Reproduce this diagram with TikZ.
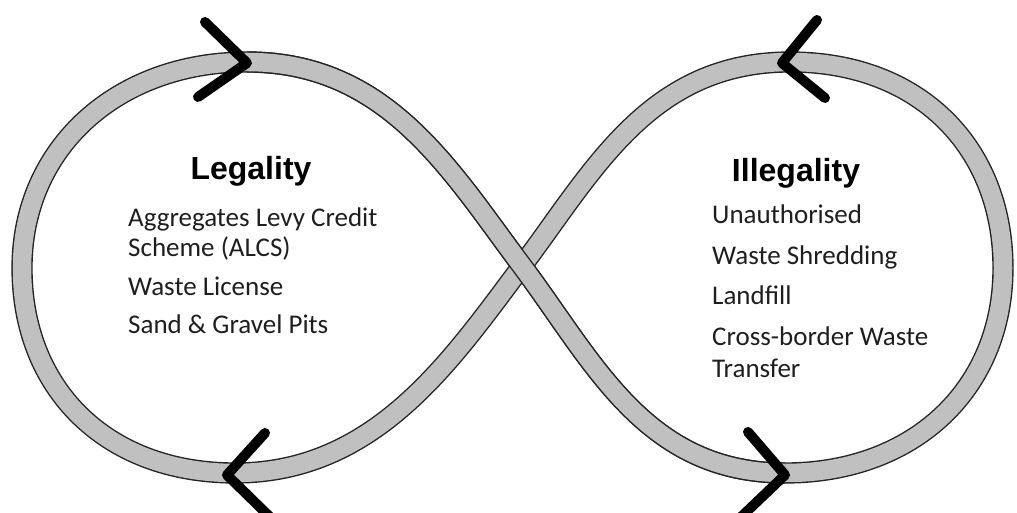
\documentclass[tikz,border=0pt]{standalone}
\usepackage{fontspec}
\setmainfont{Carlito}
\newfontfamily\titlefont{Liberation Sans}
\definecolor{bandfill}{RGB}{192,192,192}
\definecolor{bandline}{RGB}{35,35,35}
\definecolor{txt}{RGB}{30,30,30}
\begin{document}
\begin{tikzpicture}[x=1pt,y=1pt,
  band/.style={draw=bandline, line width=1.4pt, double=bandfill, double distance=18.5pt},
  chevron/.style={draw=black, line width=10pt, line cap=round, line join=round},
  titletext/.style={font=\titlefont\bfseries\fontsize{32}{32}\selectfont, anchor=base, text=black, inner sep=0pt},
  itemtext/.style={font=\fontsize{27}{27}\selectfont, anchor=base west, text=txt, inner sep=0pt}]
\useasboundingbox (0,0) rectangle (1017,513);
\clip (0,0) rectangle (1017,513);
% key points of the band centre line
\coordinate (T1) at (247,451);
\coordinate (C)  at (522,247);
\coordinate (B2) at (785,40);
\coordinate (R)  at (1003,245);
\coordinate (T2) at (790,451);
\coordinate (B1) at (235,40);
\coordinate (L)  at (22,245);
% whole figure of eight
\path[band] (T1) .. controls (387,451) and (450,343) .. (C)
  .. controls (594,151) and (645,40) .. (B2)
  .. controls (915,40) and (1003,125) .. (R)
  .. controls (1003,365) and (920,451) .. (T2)
  .. controls (650,451) and (594,343) .. (C)
  .. controls (450,151) and (375,40) .. (B1)
  .. controls (105,40) and (22,125) .. (L)
  .. controls (22,365) and (117,451) .. (T1) -- cycle;
% strand passing over at the crossing
\path[band] (T1) .. controls (387,451) and (450,343) .. (C)
  .. controls (594,151) and (645,40) .. (B2);
% arrowheads
\coordinate (tla) at (205,491); \coordinate (tlt) at (247,450); \coordinate (tlb) at (198,416);
\coordinate (bla) at (265,80);  \coordinate (blt) at (227,38);  \coordinate (blb) at (270,-4);
\coordinate (tra) at (817,493); \coordinate (trt) at (782,450); \coordinate (trb) at (825,415);
\coordinate (bra) at (748,81);  \coordinate (brt) at (785,38);  \coordinate (brb) at (741,-4);
\draw[chevron] (tla) -- (tlt) -- (tlb);
\draw[chevron] (bla) -- (blt) -- (blb);
\draw[chevron] (tra) -- (trt) -- (trb);
\draw[chevron] (bra) -- (brt) -- (brb);
% texts
\node[titletext] (legal) at (251,333) {Legality};
\node[itemtext] (l1) at (128,286) {Aggregates Levy Credit};
\node[itemtext] (l2) at (128,256) {Scheme (ALCS)};
\node[itemtext] (l3) at (128,217) {Waste License};
\node[itemtext] (l4) at (128,179) {Sand \& Gravel Pits};
\node[titletext] (illegal) at (796,331) {Illegality};
\node[itemtext] (r1) at (712,289) {Unauthorised};
\node[itemtext] (r2) at (712,248) {Waste Shredding};
\node[itemtext] (r3) at (712,208) {Landfill};
\node[itemtext] (r4) at (712,167) {Cross-border Waste};
\node[itemtext] (r5) at (712,135) {Transfer};
\end{tikzpicture}
\end{document}
